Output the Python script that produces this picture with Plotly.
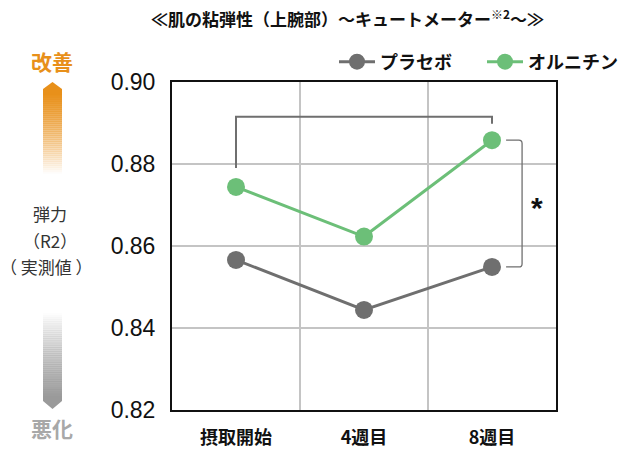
import plotly.graph_objects as go

categories = ["摂取開始", "4週目", "8週目"]
placebo = [0.8566, 0.8444, 0.8549]
ornithine = [0.8744, 0.8623, 0.8858]
y_ticks = [0.82, 0.84, 0.86, 0.88, 0.90]
y_ticklabels = ["0.82", "0.84", "0.86", "0.88", "0.90"]

GRAY = "#6f6f6f"
GREEN = "#6cbf78"
ORANGE = "#e8901a"
JP = "Noto Sans CJK JP"

# plot-area pixel geometry (for decorations outside the plot)
L, R, T, B = 172, 556, 82, 410
W, H = 640, 450


def px(x):
    return (x - L) / (R - L)


def py(y):
    return (B - y) / (B - T)


x = list(range(len(categories)))
fig = go.Figure()
fig.add_trace(go.Scatter(x=x, y=placebo, name="プラセボ", mode="lines+markers",
                         line=dict(color=GRAY, width=3),
                         marker=dict(color=GRAY, size=18), cliponaxis=False))
fig.add_trace(go.Scatter(x=x, y=ornithine, name="オルニチン", mode="lines+markers",
                         line=dict(color=GREEN, width=3),
                         marker=dict(color=GREEN, size=18), cliponaxis=False))

shapes = []
# bracket across time (start -> 8 weeks, ornithine)
top = 0.8915
shapes.append(dict(type="path", xref="x", yref="y",
                   path=f"M 0,{ornithine[0] + 0.0046} L 0,{top} L 2,{top} L 2,{ornithine[2] + 0.004}",
                   line=dict(color=GRAY, width=2)))
# bracket between groups at 8 weeks
x0, x1 = 2.11, 2.235
r = 0.025
ry = 0.0008
y_top, y_bot = ornithine[2], placebo[2]
shapes.append(dict(type="path", xref="x", yref="y",
                   path=(f"M {x0},{y_top} L {x1 - r},{y_top} Q {x1},{y_top} {x1},{y_top - ry} "
                         f"L {x1},{y_bot + ry} Q {x1},{y_bot} {x1 - r},{y_bot} L {x0},{y_bot}"),
                   line=dict(color=GRAY, width=1.3)))

# gradient arrows on the left (drawn as thin slices)
ax0, ax1 = 43, 62
n = 40
b_top, b_bot = 93, 173
for i in range(n):
    ya = b_top + (b_bot - b_top) * i / n
    yb = b_top + (b_bot - b_top) * (i + 1) / n + 0.5
    op = 1 - i / n
    shapes.append(dict(type="rect", xref="paper", yref="paper", x0=px(ax0), x1=px(ax1),
                       y0=py(yb), y1=py(ya), fillcolor=ORANGE, opacity=op, line=dict(width=0)))
shapes.append(dict(type="path", xref="paper", yref="paper",
                   path=f"M {px(ax0)},{py(93.5)} L {px(ax0)},{py(89)} L {px((ax0 + ax1) / 2)},{py(82)} "
                        f"L {px(ax1)},{py(89)} L {px(ax1)},{py(93.5)} Z",
                   fillcolor=ORANGE, line=dict(width=0)))
g_top, g_bot = 313, 398
for i in range(n):
    ya = g_top + (g_bot - g_top) * i / n
    yb = g_top + (g_bot - g_top) * (i + 1) / n + 0.5
    op = (i + 1) / n
    shapes.append(dict(type="rect", xref="paper", yref="paper", x0=px(ax0), x1=px(ax1),
                       y0=py(yb), y1=py(ya), fillcolor="#9a9a9a", opacity=op, line=dict(width=0)))
shapes.append(dict(type="path", xref="paper", yref="paper",
                   path=f"M {px(ax0)},{py(397.5)} L {px(ax0)},{py(401)} L {px((ax0 + ax1) / 2)},{py(409)} "
                        f"L {px(ax1)},{py(401)} L {px(ax1)},{py(397.5)} Z",
                   fillcolor="#9a9a9a", line=dict(width=0)))


def note(xp, yp, text, size, color, ref="paper", family=JP):
    return dict(x=xp, y=yp, xref=ref, yref=ref, text=text, showarrow=False,
                xanchor="center", yanchor="middle",
                font=dict(family=family, size=size, color=color))


annotations = [
    dict(x=2.35, y=0.8695, xref="x", yref="y", text="<b>*</b>", showarrow=False,
         xanchor="center", yanchor="middle",
         font=dict(family="Liberation Sans", size=30, color="#111")),
    note(px(52), py(61), "<b>改善</b>", 21, ORANGE),
    note(px(52), py(428), "<b>悪化</b>", 21, "#a8a8a8"),
    note(px(50), py(213), "弾力", 17, "#333"),
    note(px(50), py(240), "（R2）", 17, "#333"),
    note(px(46), py(266), "（ 実測値 ）", 17, "#333"),
    note(px(347), py(18), "<b>≪肌の粘弾性（上腕部）～キュートメーター<sup>※2</sup>～≫</b>", 17, "#111"),
]

fig.update_layout(
    width=W, height=H,
    margin=dict(l=L, r=W - R, t=T, b=H - B, autoexpand=False),
    plot_bgcolor="white", paper_bgcolor="white",
    showlegend=True,
    legend=dict(orientation="h", x=px(334), y=py(62), xanchor="left", yanchor="middle",
                font=dict(family=JP, size=18, color="#111", weight="bold"),
                entrywidth=97, entrywidthmode="pixels", itemwidth=36,
                bgcolor="rgba(0,0,0,0)", tracegroupgap=0),
    shapes=shapes,
    annotations=annotations,
)
fig.update_xaxes(range=[-0.5, 2.5], tickvals=x, ticktext=[f"<b>{c}</b>" for c in categories],
                 showgrid=False, zeroline=False,
                 showline=True, linecolor="#111", linewidth=2, mirror=True,
                 ticks="", ticklabelstandoff=10,
                 tickfont=dict(family=JP, size=18, color="#111"),
                 minor=dict(tickvals=[0.5, 1.5], showgrid=True, gridcolor="#c4c4c4", gridwidth=1.5))
fig.update_yaxes(range=[0.82, 0.90], tickvals=y_ticks, ticktext=y_ticklabels,
                 showgrid=True, gridcolor="#c4c4c4", gridwidth=1.5, zeroline=False,
                 showline=True, linecolor="#111", linewidth=2, mirror=True,
                 ticks="", ticklabelstandoff=10,
                 tickfont=dict(family="Liberation Sans", size=23, color="#111"))

fig.write_html("out.html")
